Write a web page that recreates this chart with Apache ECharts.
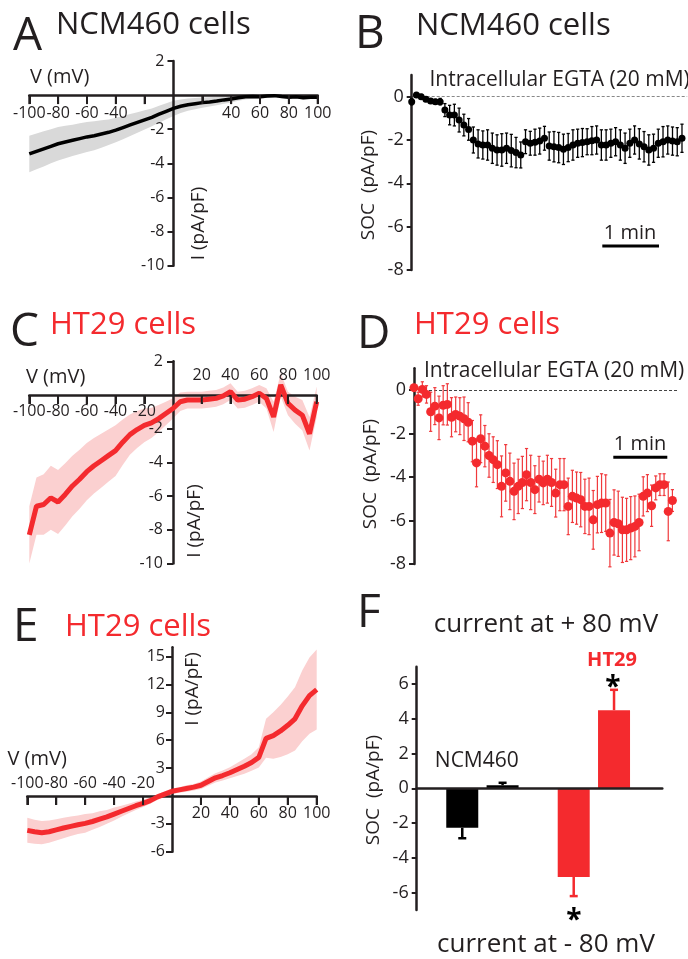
<!DOCTYPE html>
<html><head><meta charset="utf-8">
<script src="https://cdn.jsdelivr.net/npm/echarts@6/dist/echarts.min.js"></script>
<style>html,body{margin:0;padding:0;background:#fff}#c{width:688px;height:959px}</style>
</head><body><div id="c"></div>
<script>
// ---------- DATA ----------
const voltage = [-100,-95,-90,-85,-80,-75,-70,-65,-60,-55,-50,-45,-40,-35,-30,-25,-20,-15,-10,-5,0,5,10,15,20,25,30,35,40,45,50,55,60,65,70,75,80,85,90,95,100];

// Panel A: NCM460 I-V
const ivA_mean = [-3.45,-3.3,-3.15,-3.0,-2.85,-2.75,-2.65,-2.55,-2.45,-2.38,-2.28,-2.18,-2.05,-1.9,-1.75,-1.6,-1.45,-1.3,-1.12,-0.95,-0.78,-0.65,-0.56,-0.5,-0.44,-0.4,-0.35,-0.28,-0.23,-0.16,-0.1,-0.08,-0.09,-0.05,-0.03,-0.08,-0.12,-0.1,-0.16,-0.12,-0.13];
const ivA_err = [1.07,1.05,1.03,1.0,0.98,0.95,0.92,0.9,0.88,0.85,0.8,0.75,0.72,0.68,0.64,0.6,0.56,0.52,0.5,0.47,0.45,0.4,0.36,0.33,0.3,0.27,0.25,0.22,0.2,0.17,0.15,0.13,0.12,0.1,0.1,0.1,0.1,0.1,0.1,0.1,0.1];

// Panel C: HT29 I-V
const ivC_mean = [-8.3,-6.6,-6.5,-6.1,-6.35,-5.9,-5.4,-5.0,-4.55,-4.2,-3.9,-3.6,-3.3,-2.8,-2.35,-2.05,-1.8,-1.65,-1.4,-1.1,-0.8,-0.4,-0.3,-0.3,-0.3,-0.25,-0.2,-0.05,0.2,-0.3,-0.25,-0.1,0.1,-0.2,-1.3,0.6,-0.5,-0.9,-1.2,-2.3,-0.4];
const ivC_err = [1.7,1.7,1.8,1.9,1.9,1.85,1.8,1.75,1.7,1.65,1.6,1.55,1.5,1.35,1.2,1.1,1.0,0.9,0.8,0.7,0.6,0.55,0.5,0.5,0.5,0.5,0.5,0.5,0.5,0.5,0.5,0.5,0.5,0.6,0.9,0.7,0.7,0.8,0.9,1.0,0.9];

// Panel E: HT29 I-V
const ivE_mean = [-3.7,-3.85,-3.95,-3.85,-3.65,-3.45,-3.27,-3.1,-2.95,-2.75,-2.5,-2.25,-1.95,-1.65,-1.35,-1.05,-0.8,-0.5,-0.1,0.2,0.5,0.65,0.8,0.95,1.15,1.55,1.95,2.2,2.5,2.85,3.2,3.6,4.15,6.2,6.5,7.0,7.6,8.3,9.7,10.8,11.45];
const ivE_err = [1.35,1.3,1.25,1.2,1.15,1.1,1.05,1.0,1.0,0.9,0.85,0.75,0.7,0.6,0.5,0.45,0.4,0.35,0.3,0.3,0.3,0.3,0.35,0.35,0.4,0.45,0.5,0.55,0.6,0.7,0.8,0.9,1.1,2.1,2.5,2.8,3.1,3.4,3.8,4.1,4.3];

// Panel B: NCM460 SOC time course (one value per sample)
const socB_mean = [-0.23,0.08,0,-0.12,-0.2,-0.23,-0.23,-0.62,-0.85,-0.85,-1.08,-1.31,-1.51,-2.0,-2.18,-2.23,-2.23,-2.38,-2.46,-2.46,-2.38,-2.49,-2.58,-2.69,-2.08,-2.15,-2.1,-2.05,-1.92,-2.28,-2.31,-2.35,-2.43,-2.35,-2.23,-2.15,-2.12,-2.08,-2.03,-2.0,-2.23,-2.23,-2.15,-2.08,-2.23,-2.38,-2.15,-2.0,-2.18,-2.31,-2.46,-2.38,-2.15,-2.08,-2.0,-2.05,-2.08,-1.92];
const socB_err = [0.15,0.1,0.1,0.1,0.1,0.1,0.15,0.3,0.45,0.5,0.55,0.5,0.5,0.6,0.65,0.65,0.7,0.7,0.7,0.75,0.7,0.75,0.7,0.6,0.55,0.55,0.6,0.6,0.55,0.65,0.7,0.7,0.7,0.65,0.7,0.65,0.65,0.6,0.65,0.65,0.7,0.7,0.65,0.65,0.7,0.7,0.65,0.65,0.7,0.7,0.7,0.65,0.65,0.7,0.65,0.65,0.65,0.65];

// Panel D: HT29 SOC time course
const socD_mean = [0.11,-0.4,0.03,-0.2,-1.0,-0.74,-1.28,-0.7,-0.66,-1.25,-1.12,-1.2,-1.32,-1.48,-2.35,-3.35,-2.24,-2.58,-3.01,-3.2,-3.43,-4.43,-3.81,-4.2,-4.66,-4.43,-4.25,-3.89,-4.25,-4.58,-4.1,-4.27,-4.1,-4.25,-4.74,-4.35,-4.35,-5.35,-4.89,-4.97,-5.04,-5.35,-5.35,-5.97,-5.27,-5.2,-5.2,-6.58,-6.09,-6.15,-6.43,-6.43,-6.35,-6.27,-6.09,-4.89,-4.74,-5.32,-4.5,-4.35,-4.35,-5.58,-5.08];
const socD_err = [0.05,0.3,0.35,0.4,0.9,0.85,1.0,0.9,0.95,0.9,0.8,0.85,1.0,0.9,0.95,1.1,1.1,0.95,1.0,1.05,1.1,1.4,1.3,1.3,1.3,1.25,1.2,1.2,1.25,1.1,1.05,1.0,1.1,1.1,1.1,1.2,1.2,1.3,1.2,1.2,1.25,1.25,1.3,1.35,1.3,1.35,1.3,1.55,1.5,1.5,1.5,1.45,1.45,1.4,1.3,0.9,0.85,0.95,0.55,0.5,0.5,1.35,0.5];

// Panel F: bars
const barCategories = ['NCM460','HT29'];
const socMinus80 = [-2.27,-5.1];
const socMinus80Err = [0.6,1.1];
const socPlus80 = [0.18,4.5];
const socPlus80Err = [0.14,1.17];

// tick labels
const ivA_xLabels = [-100,-80,-60,-40,40,60,80,100];
const ivC_xLabelsNeg = [-100,-80,-60,-40,-20];
const ivC_xLabelsPos = [20,40,60,80,100];
const ivE_xLabelsNeg = [-100,-80,-60,-40,-20];
const ivE_xLabelsPos = [20,40,60,80,100];
const iv_xTicks = [-100,-80,-60,-40,-20,20,40,60,80,100];
const ivAC_yLabels = [2,-2,-4,-6,-8,-10];
const ivE_yLabels = [15,12,9,6,3,-3,-6];
const soc_yLabels = [0,-2,-4,-6,-8];
const bar_yLabels = [6,4,2,0,-2,-4,-6];

// ---------- STYLE / BUILDERS ----------
const TXT = '#231f20';
const RED = '#f42a2e';
const FONT = '"Open Sans","Noto Sans",sans-serif';
const axisLineStyle = {color: TXT, width: 2.5};

const grids = [], xAxes = [], yAxes = [], series = [];
const ivDataAxes = [];
function addGrid(g){ grids.push(Object.assign({outerBoundsMode:'none', containLabel:false}, g)); return grids.length-1; }
function addX(a){ xAxes.push(a); return xAxes.length-1; }
function addY(a){ yAxes.push(a); return yAxes.length-1; }
const hidden = (grid, min, max) => ({type:'value', gridIndex:grid, min, max, show:false, splitLine:{show:false}});

function xIV(grid, position, labelVals, showLine, showTick, margin) {
  return {type:'value', gridIndex:grid, position, min:-100, max:100, z:1.5,
    axisLine:{show:showLine, onZero:false, lineStyle:axisLineStyle},
    axisTick:{show:showTick, customValues:iv_xTicks, length:9, lineStyle:{color:TXT, width:2}},
    axisLabel:{show:true, customValues:labelVals, margin, color:TXT, fontSize:16, fontFamily:FONT,
      formatter: v => labelVals.includes(v) ? String(v) : ''},
    splitLine:{show:false}};
}
function yVal(grid, min, max, labelVals, fontSize, margin, tickLen) {
  return {type:'value', gridIndex:grid, min, max, position:'left', z:1.5,
    axisLine:{show:true, onZero:false, lineStyle:axisLineStyle},
    axisTick:{show:true, customValues:labelVals, length:tickLen, lineStyle:{color:TXT, width:2}},
    axisLabel:{customValues:labelVals, margin, fontSize, color:TXT, fontFamily:FONT,
      formatter: v => labelVals.includes(v) ? String(v) : ''},
    splitLine:{show:false}};
}

function bandSeries(xi, yi, xs, mean, err, color) {
  const lo = mean.map((m,i)=>m-err[i]), hi = mean.map((m,i)=>m+err[i]);
  return {type:'custom', xAxisIndex:xi, yAxisIndex:yi, silent:true, z:1,
    data: xs.map((x,i)=>[x, lo[i], hi[i]]), encode:{x:0, y:[1,2]},
    renderItem(params, api) {
      if (params.dataIndex !== 0) return null;
      const pts = [];
      for (let i=0;i<xs.length;i++) pts.push(api.coord([xs[i], hi[i]]));
      for (let i=xs.length-1;i>=0;i--) pts.push(api.coord([xs[i], lo[i]]));
      return {type:'polygon', shape:{points:pts}, style:{fill:color}};
    }};
}
function meanLine(xi, yi, xs, mean, color, width) {
  return {type:'line', xAxisIndex:xi, yAxisIndex:yi, silent:true, z:3, symbol:'none',
    data: xs.map((x,i)=>[x, mean[i]]), lineStyle:{color, width}};
}
function errBars(xi, yi, mean, err, color, cap, lw) {
  return {type:'custom', xAxisIndex:xi, yAxisIndex:yi, silent:true, z:2,
    data: mean.map((m,i)=>[i, m-err[i], m+err[i]]), encode:{x:0, y:[1,2]},
    renderItem(params, api) {
      const x = api.value(0);
      const a = api.coord([x, api.value(1)]), b = api.coord([x, api.value(2)]);
      const st = {stroke:color, lineWidth:lw};
      return {type:'group', children:[
        {type:'line', shape:{x1:a[0],y1:a[1],x2:b[0],y2:b[1]}, style:st},
        {type:'line', shape:{x1:a[0]-cap,y1:a[1],x2:a[0]+cap,y2:a[1]}, style:st},
        {type:'line', shape:{x1:b[0]-cap,y1:b[1],x2:b[0]+cap,y2:b[1]}, style:st}]};
    }};
}
function dots(xi, yi, mean, color, size, dashColor) {
  return {type:'scatter', xAxisIndex:xi, yAxisIndex:yi, silent:true, z:3, symbolSize:size,
    itemStyle:{color, opacity:1}, data: mean.map((m,i)=>[i,m]),
    markLine:{silent:true, symbol:'none', label:{show:false}, z:1,
      lineStyle:{type:[3,2], color:dashColor, width:1}, data:[{yAxis:0}]}};
}

// I-V panel: data grid + axis grids so that axes cross at (0,0)
function ivPanel(box, ymin, ymax, yLabels, yMargin, xBottomLabels, mB, xTopLabels, mT, mean, err, lineColor, bandColor, lw) {
  const {left, top, width, height} = box;
  const x0 = left + width * 0.5;
  const y0 = top + height * ymax / (ymax - ymin);
  const gD = addGrid({left, top, width, height});
  const xi = addX(hidden(gD, -100, 100));
  const yi = addY(hidden(gD, ymin, ymax));
  ivDataAxes.push({xi, yi});
  series.push(bandSeries(xi, yi, voltage, mean, err, bandColor),
              meanLine(xi, yi, voltage, mean, lineColor, lw));
  const gB = addGrid({left, top, width, height: y0 - top});
  addX(xIV(gB, 'bottom', xBottomLabels, true, true, mB));
  addY(hidden(gB, 0, 1));
  if (xTopLabels) {
    const gT = addGrid({left, top: y0, width, height: top + height - y0});
    addX(xIV(gT, 'top', xTopLabels, false, false, mT));
    addY(hidden(gT, 0, 1));
  }
  const gY = addGrid({left: x0, top, width: left + width - x0, height});
  addX(hidden(gY, 0, 1));
  addY(yVal(gY, ymin, ymax, yLabels, 16, yMargin, 6));
}

ivPanel({left:29.3, top:61, width:288.4, height:204.7}, -10, 2, ivAC_yLabels, 9, ivA_xLabels, 10, null, 0,
  ivA_mean, ivA_err, '#000', '#d9d9d9', 3.5);
ivPanel({left:29.3, top:361.3, width:287.4, height:202.2}, -10, 2, ivAC_yLabels, 10, ivC_xLabelsNeg, 8, ivC_xLabelsPos, 12,
  ivC_mean, ivC_err, RED, '#fbd0d0', 5);
ivPanel({left:27.3, top:647.3, width:289.4, height:204.4}, -6, 16, ivE_yLabels, 7, ivE_xLabelsPos, 9, ivE_xLabelsNeg, 5,
  ivE_mean, ivE_err, RED, '#fbd0d0', 5);

// B
{
  const g = addGrid({left:411.7, top:75, width:275.5, height:195});
  const xi = addX(hidden(g, 0, 58.1));
  const yi = addY(yVal(g, -8, 1, soc_yLabels, 18, 8, 5));
  series.push(errBars(xi, yi, socB_mean, socB_err, '#000', 1.6, 1.3), dots(xi, yi, socB_mean, '#000', 7, '#888'));
}
// D
{
  const g = addGrid({left:414, top:368.3, width:263, height:195.7});
  const xi = addX(hidden(g, 0, 63.1));
  const yi = addY(yVal(g, -8, 1, soc_yLabels, 18, 8, 5));
  series.push(errBars(xi, yi, socD_mean, socD_err, '#f0393c', 1.6, 1.2), dots(xi, yi, socD_mean, RED, 9, '#444'));
}
// F
const barColors = ['#000000', RED];
const barOffset = (32 + 32*0.26)/2;
{
  const gA = addGrid({left:416.7, top:666.7, width:245.6, height:243.3});
  addX({type:'value', gridIndex:gA, min:0, max:1, z:1.5, axisLine:{show:true, onZero:true, lineStyle:axisLineStyle},
    axisTick:{show:false}, axisLabel:{show:false}, splitLine:{show:false}});
  addY(yVal(gA, -7, 7, bar_yLabels, 18, 8, 5));
  const gB = addGrid({left:426.7, top:666.7, width:222.9, height:243.3});
  const xi = addX({type:'category', gridIndex:gB, data:barCategories, show:false});
  const yi = addY(hidden(gB, -7, 7));
  series.push(
    {type:'bar', xAxisIndex:xi, yAxisIndex:yi, barWidth:32, barGap:'26%', silent:true, z:1,
      data: socMinus80.map((v,i)=>({value:v, itemStyle:{color:barColors[i]}}))},
    {type:'bar', xAxisIndex:xi, yAxisIndex:yi, barWidth:32, barGap:'26%', silent:true, z:1,
      data: socPlus80.map((v,i)=>({value:v, itemStyle:{color:barColors[i]}}))},
    {type:'custom', xAxisIndex:xi, yAxisIndex:yi, silent:true, z:1,
      data: socMinus80.map((v,i)=>[i,v,socMinus80Err[i],0]).concat(socPlus80.map((v,i)=>[i,v,socPlus80Err[i],1])),
      encode:{x:0, y:1},
      renderItem(params, api){
        const idx = api.value(0), v = api.value(1), e = api.value(2), s = api.value(3);
        const sign = v < 0 ? -1 : 1;
        const a = api.coord([idx, v]), b = api.coord([idx, v + sign*e]);
        const x = a[0] + (s === 0 ? -barOffset : barOffset);
        const st = {stroke: barColors[idx], lineWidth:2.5};
        return {type:'group', children:[
          {type:'line', shape:{x1:x,y1:a[1],x2:x,y2:b[1]}, style:st},
          {type:'line', shape:{x1:x-4,y1:b[1],x2:x+4,y2:b[1]}, style:st}]};
      }});
}

const T = (x, y, text, size, o={}) => ({type:'text', x, y, silent:true, rotation:o.rot||0, z:10,
  style:{text, fill:o.color||TXT, fontSize:size, fontFamily:FONT, fontWeight:o.weight||'normal',
    align:o.align||'left', verticalAlign:'middle'}});
const R90 = Math.PI/2;

const baseGraphic = [
    T(13,36.7,'A',46), T(355,34.9,'B',46), T(10,333.2,'C',46),
    T(357,334.7,'D',46), T(13,628.2,'E',46), T(357,614.2,'F',46),
    T(56,24.9,'NCM460 cells',31), T(416,26.4,'NCM460 cells',31),
    T(50,325.2,'HT29 cells',31,{color:RED}), T(414,325.5,'HT29 cells',31,{color:RED}),
    T(65,627.2,'HT29 cells',31,{color:RED}),
    T(30,77.2,'V (mV)',20), T(26,376.9,'V (mV)',20), T(7.5,759.7,'V (mV)',20),
    T(198.3,223.5,'I (pA/pF)',19,{rot:R90,align:'center'}),
    T(194.6,521,'I (pA/pF)',19,{rot:R90,align:'center'}),
    T(193,689,'I (pA/pF)',19,{rot:R90,align:'center'}),
    T(368.6,185,'SOC  (pA/pF)',19,{rot:R90,align:'center'}),
    T(370.3,474,'SOC  (pA/pF)',19,{rot:R90,align:'center'}),
    T(373.3,790,'SOC  (pA/pF)',19,{rot:R90,align:'center'}),
    T(429.5,79.7,'Intracellular EGTA (20 mM)',21),
    T(424,370.6,'Intracellular EGTA (20 mM)',21),
    T(630,233,'1 min',20,{align:'center'}),
    T(640,444.7,'1 min',20,{align:'center'}),
    {type:'rect', silent:true, shape:{x:602.3,y:244.5,width:56.7,height:3}, style:{fill:'#000'}},
    {type:'rect', silent:true, shape:{x:613.3,y:455.8,width:54,height:3}, style:{fill:'#000'}},
    T(546,624.3,'current at + 80 mV',26,{align:'center'}),
    T(546,945,'current at - 80 mV',26,{align:'center'}),
    T(612,660.6,'HT29',20,{align:'center',weight:'bold',color:RED}),
    T(476.8,761.5,'NCM460',21,{align:'center'}),
    T(613,688.5,'*',28,{align:'center',weight:'bold',color:'#000'}),
    T(573.8,921.5,'*',28,{align:'center',weight:'bold',color:'#000'})
];

const option = {
  animation:false,
  backgroundColor:'#fff',
  grid: grids, xAxis: xAxes, yAxis: yAxes, series,
  graphic: baseGraphic
};
const chart = echarts.init(document.getElementById('c'), null, {renderer:'canvas', width:688, height:959});
chart.setOption(option);

// x-axis tick marks of the I-V panels, positioned through each panel's own axis scales
const tickEls = [];
ivDataAxes.forEach(({xi, yi}) => {
  iv_xTicks.forEach(t => {
    const p = chart.convertToPixel({xAxisIndex: xi, yAxisIndex: yi}, [t, 0]);
    if (p) tickEls.push({type:'line', silent:true, z:20,
      shape:{x1:p[0], y1:p[1], x2:p[0], y2:p[1]+9}, style:{stroke:TXT, lineWidth:2}});
  });
});
chart.setOption({graphic: baseGraphic.concat(tickEls)});
</script>
</body></html>
